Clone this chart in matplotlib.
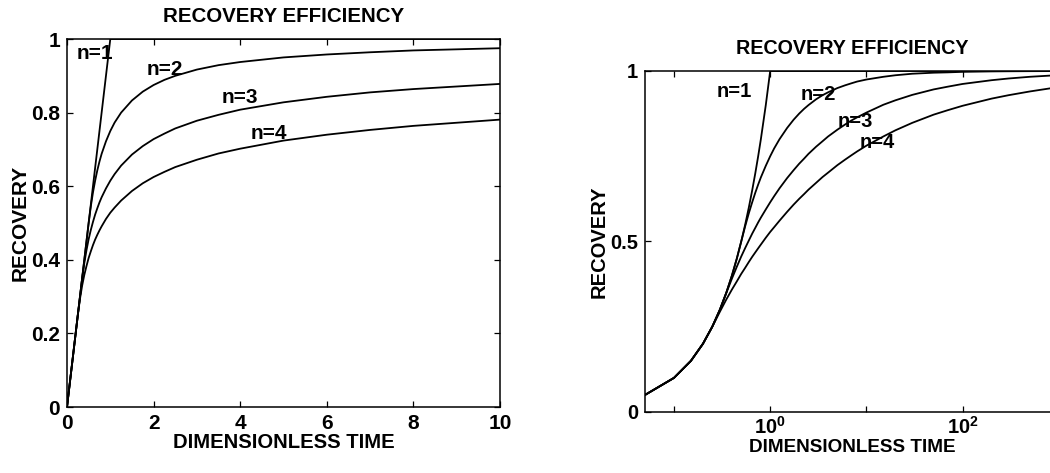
import numpy as np
import matplotlib
matplotlib.use('Agg')
import matplotlib.pyplot as plt
from matplotlib.ticker import FixedLocator

plt.rcParams['font.family'] = 'Liberation Sans'
plt.rcParams['font.weight'] = 'bold'
plt.rcParams['mathtext.fontset'] = 'custom'
plt.rcParams['mathtext.rm'] = 'Liberation Sans:bold'
plt.rcParams['mathtext.bf'] = 'Liberation Sans:bold'

# dimensionless time and recovery
t = [0, 0.05, 0.1, 0.15, 0.2, 0.25, 0.3, 0.35, 0.4, 0.45, 0.5, 0.55, 0.6, 0.65,
     0.7, 0.75, 0.8, 0.9, 1.0, 1.1, 1.25, 1.5, 1.75, 2, 2.25, 2.5, 3, 3.5, 4,
     5, 6, 7, 8, 10, 15, 20, 30, 50, 70, 100, 200, 300, 500, 1000]
rec_n1 = [0, 0.05, 0.1, 0.15, 0.2, 0.25, 0.3, 0.35, 0.4, 0.45, 0.5, 0.55, 0.6, 0.65,
          0.7, 0.75, 0.8, 0.9, 1.0, 1, 1, 1, 1, 1, 1, 1, 1, 1, 1,
          1, 1, 1, 1, 1, 1, 1, 1, 1, 1, 1, 1, 1, 1, 1]
rec_n2 = [0, 0.05, 0.1, 0.15, 0.2, 0.25, 0.3, 0.35, 0.4, 0.45, 0.5, 0.545, 0.583, 0.615,
          0.643, 0.667, 0.688, 0.722, 0.75, 0.773, 0.8, 0.833, 0.857, 0.875, 0.889, 0.9, 0.917, 0.929, 0.9375,
          0.95, 0.958, 0.964, 0.969, 0.975, 0.983, 0.9875, 0.992, 0.995, 0.996, 0.9975, 0.9988, 0.9992, 0.9995, 0.9998]
rec_n3 = [0, 0.05, 0.1, 0.15, 0.2, 0.25, 0.3, 0.349, 0.391, 0.426, 0.456, 0.481, 0.503, 0.523,
          0.540, 0.556, 0.570, 0.594, 0.615, 0.633, 0.656, 0.686, 0.709, 0.728, 0.743, 0.757, 0.778, 0.794, 0.808,
          0.828, 0.843, 0.855, 0.864, 0.878, 0.901, 0.914, 0.930, 0.946, 0.954, 0.962, 0.973, 0.978, 0.983, 0.988]
rec_n4 = [0, 0.05, 0.1, 0.15, 0.2, 0.25, 0.294, 0.330, 0.359, 0.383, 0.405, 0.423, 0.440, 0.455,
          0.468, 0.480, 0.491, 0.511, 0.528, 0.542, 0.561, 0.587, 0.608, 0.625, 0.639, 0.652, 0.672, 0.689, 0.702,
          0.724, 0.740, 0.753, 0.764, 0.781, 0.808, 0.826, 0.848, 0.872, 0.885, 0.898, 0.919, 0.929, 0.940, 0.953]

curves = [rec_n1, rec_n2, rec_n3, rec_n4]
labels = ['n=1', 'n=2', 'n=3', 'n=4']
# label anchor points (time, recovery) for each panel
lab_lin = [(0.23, 0.946), (1.85, 0.902), (3.58, 0.826), (4.25, 0.728)]
lab_log = [(0.28, 0.924), (2.09, 0.915), (5.04, 0.836), (8.55, 0.774)]

fig = plt.figure(figsize=(10.5, 4.73), dpi=100)

# left: linear time axis
ax1 = fig.add_axes([0.0638, 0.1395, 0.4124, 0.7780])
for r in curves:
    ax1.plot(t, r, color='k', lw=1.3)
for (x, y), s in zip(lab_lin, labels):
    ax1.text(x, y, s, fontsize=15, fontweight='bold', va='baseline')
ax1.set_xlim(0, 10)
ax1.set_ylim(0, 1)
ax1.set_xticks([0, 2, 4, 6, 8, 10])
ax1.set_xticklabels(['0', '2', '4', '6', '8', '10'])
ax1.set_yticks([0, 0.2, 0.4, 0.6, 0.8, 1])
ax1.set_yticklabels(['0', '0.2', '0.4', '0.6', '0.8', '1'])
ax1.tick_params(direction='in', top=True, right=True, length=4, width=0.9,
                labelsize=15, pad=5)
ax1.set_title('RECOVERY EFFICIENCY', fontsize=14.8, fontweight='bold', pad=12)
ax1.set_xlabel('DIMENSIONLESS TIME', fontsize=14.6, fontweight='bold', labelpad=0)
ax1.set_ylabel('RECOVERY', fontsize=15, fontweight='bold', labelpad=1)

# right: log time axis (runs past the right edge of the figure)
ax2 = fig.add_axes([0.6143, 0.1290, 0.3941, 0.7209])
for r in curves:
    ax2.plot(t[1:], r[1:], color='k', lw=1.3)
for (x, y), s in zip(lab_log, labels):
    ax2.text(x, y, s, fontsize=14.5, fontweight='bold', va='baseline')
ax2.set_xscale('log')
ax2.set_xlim(0.05, 1000)
ax2.set_ylim(0, 1)
ax2.xaxis.set_major_locator(FixedLocator([0.1, 1, 10, 100, 1000]))
ax2.xaxis.set_minor_locator(FixedLocator([]))
ax2.set_xticklabels(['', r'$\mathbf{10^0}$', '', r'$\mathbf{10^2}$', ''])
ax2.set_yticks([0, 0.5, 1])
ax2.set_yticklabels(['0', '0.5', '1'])
ax2.tick_params(direction='in', top=True, right=True, length=4, width=0.9,
                labelsize=14.5, pad=5)
ax2.tick_params(axis='x', pad=3)
ax2.set_title('RECOVERY EFFICIENCY', fontsize=14.2, fontweight='bold', pad=12)
ax2.set_xlabel('DIMENSIONLESS TIME', fontsize=13.6, fontweight='bold', labelpad=1)
ax2.set_ylabel('RECOVERY', fontsize=14.5, fontweight='bold', labelpad=1)

for ax in (ax1, ax2):
    for sp in ax.spines.values():
        sp.set_linewidth(1.1)

fig.savefig('out.png', dpi=100)
